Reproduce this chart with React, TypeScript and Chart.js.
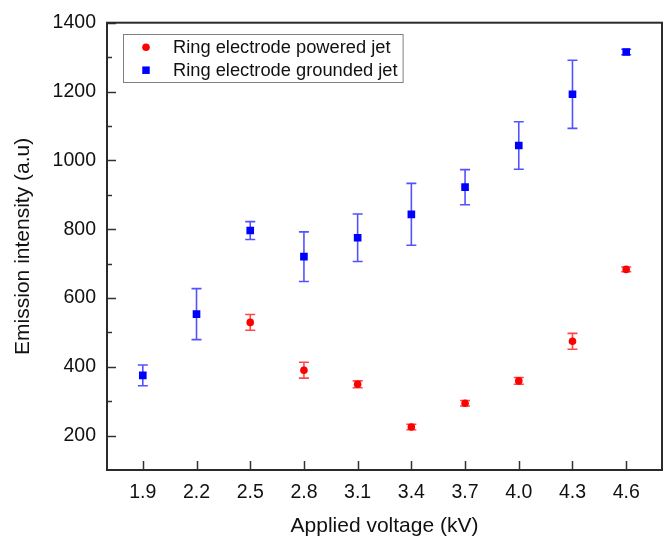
import React, { useEffect, useRef } from "react";
import { Chart, registerables } from "chart.js";

Chart.register(...registerables);

// Applied voltage (kV)
const voltages = [1.9, 2.2, 2.5, 2.8, 3.1, 3.4, 3.7, 4.0, 4.3, 4.6];
// Ring electrode powered jet
const poweredValues: (number | null)[] = [null, null, 529, 390, 349, 225, 294, 359, 474, 683];
const poweredErrors: (number | null)[] = [null, null, 23, 23, 10, 8, 8, 10, 23, 7];
// Ring electrode grounded jet
const groundedValues = [375, 553, 796, 720, 775, 843, 922, 1043, 1192, 1315];
const groundedErrors = [30, 74, 26, 72, 69, 90, 51, 69, 99, 8];
// Axis ticks
const yMajorTicks = [200, 400, 600, 800, 1000, 1200, 1400];
const yMinorTicks = [300, 500, 700, 900, 1100, 1300];
const xTicks = voltages;

const FONT = "'Liberation Sans', Arial, sans-serif";

export default function App() {
  const ref = useRef<HTMLCanvasElement>(null);

  useEffect(() => {
    document.body.style.margin = "0";
    const canvas = ref.current;
    if (!canvas) return;

    const errorBars = {
      id: "errorBars",
      beforeDatasetsDraw(chart: any) {
        const ctx = chart.ctx;
        const xs = chart.scales.x;
        const ys = chart.scales.y;
        chart.data.datasets.forEach((ds: any) => {
          const errs = ds.errors as (number | null)[];
          ctx.save();
          ctx.strokeStyle = ds.errorColor;
          ctx.lineWidth = 1.6;
          ds.data.forEach((pt: any) => {
            const idx = voltages.indexOf(pt.x);
            const e = errs[idx];
            if (e == null) return;
            const x = xs.getPixelForValue(pt.x);
            const yt = ys.getPixelForValue(pt.y + e);
            const yb = ys.getPixelForValue(pt.y - e);
            ctx.beginPath();
            ctx.moveTo(x, yt);
            ctx.lineTo(x, yb);
            ctx.moveTo(x - 5, yt);
            ctx.lineTo(x + 5, yt);
            ctx.moveTo(x - 5, yb);
            ctx.lineTo(x + 5, yb);
            ctx.stroke();
          });
          ctx.restore();
        });
      },
    };

    const frame = {
      id: "frame",
      afterDraw(chart: any) {
        const ctx = chart.ctx;
        const { left, right, top, bottom } = chart.chartArea;
        const xs = chart.scales.x;
        const ys = chart.scales.y;
        ctx.save();
        ctx.strokeStyle = "#333333";
        ctx.lineWidth = 1.5;
        ctx.beginPath();
        yMajorTicks.forEach((v) => {
          const y = Math.round(ys.getPixelForValue(v)) + 0.5;
          ctx.moveTo(left, y);
          ctx.lineTo(left + 9, y);
        });
        yMinorTicks.forEach((v) => {
          const y = Math.round(ys.getPixelForValue(v)) + 0.5;
          ctx.moveTo(left, y);
          ctx.lineTo(left + 5, y);
        });
        xTicks.forEach((v) => {
          const x = Math.round(xs.getPixelForValue(v)) + 0.5;
          ctx.moveTo(x, bottom);
          ctx.lineTo(x, bottom - 9);
        });
        ctx.stroke();
        ctx.lineWidth = 2;
        ctx.strokeStyle = "#2b2b2b";
        ctx.strokeRect(left, top, right - left, bottom - top);
        ctx.restore();
      },
    };

    const boxLegend = {
      id: "boxLegend",
      afterDraw(chart: any) {
        const ctx = chart.ctx;
        const { left, top } = chart.chartArea;
        const x0 = left + 16;
        const y0 = top + 11.5;
        ctx.save();
        ctx.font = `18.3px ${FONT}`;
        const dsList = chart.data.datasets;
        let maxW = 0;
        dsList.forEach((ds: any) => {
          maxW = Math.max(maxW, ctx.measureText(ds.label).width);
        });
        const textX = x0 + 50;
        const w = textX - x0 + maxW + 5;
        const h = 48;
        ctx.fillStyle = "#ffffff";
        ctx.fillRect(x0, y0, w, h);
        ctx.strokeStyle = "#808080";
        ctx.lineWidth = 1;
        ctx.strokeRect(Math.round(x0) + 0.5, Math.round(y0) + 0.5, w, h);
        dsList.forEach((ds: any, i: number) => {
          const cy = y0 + 13 + i * 23;
          ctx.fillStyle = ds.pointBackgroundColor;
          if (ds.pointStyle === "rect") {
            const s = 7.5;
            ctx.fillRect(x0 + 23 - s / 2, cy - s / 2, s, s);
          } else {
            ctx.beginPath();
            ctx.arc(x0 + 23, cy, 3.8, 0, Math.PI * 2);
            ctx.fill();
          }
          ctx.fillStyle = "#111111";
          ctx.textBaseline = "middle";
          ctx.textAlign = "left";
          ctx.fillText(ds.label, textX, cy + 1);
        });
        ctx.restore();
      },
    };

    const poweredData = voltages
      .map((v, i) => ({ x: v, y: poweredValues[i] }))
      .filter((p) => p.y != null);
    const groundedData = voltages.map((v, i) => ({ x: v, y: groundedValues[i] }));

    const chart = new Chart(canvas, {
      type: "scatter",
      data: {
        datasets: [
          {
            label: "Ring electrode powered jet",
            data: poweredData as any,
            pointStyle: "circle",
            pointRadius: 3.8,
            pointBorderWidth: 0,
            pointBackgroundColor: "#ff0000",
            borderColor: "#ff0000",
            errors: poweredErrors,
            errorColor: "rgba(255,0,0,0.72)",
          } as any,
          {
            label: "Ring electrode grounded jet",
            data: groundedData as any,
            pointStyle: "rect",
            pointRadius: 5.4,
            pointBorderWidth: 0,
            pointBackgroundColor: "#0000ff",
            borderColor: "#0000ff",
            errors: groundedErrors,
            errorColor: "rgba(0,0,255,0.68)",
          } as any,
        ],
      },
      options: {
        responsive: false,
        animation: false,
        layout: { padding: { top: 22, right: 6, left: 0, bottom: 0 } },
        plugins: {
          legend: { display: false },
          tooltip: { enabled: false },
        },
        scales: {
          x: {
            type: "linear",
            min: 1.7,
            max: 4.8,
            grid: { display: false, drawTicks: false },
            border: { display: false },
            afterBuildTicks: (scale: any) => {
              scale.ticks = xTicks.map((v) => ({ value: v }));
            },
            afterFit: (scale: any) => {
              scale.height = 67;
            },
            ticks: {
              padding: 11,
              color: "#111111",
              font: { family: FONT, size: 19.5 },
              callback: (v: any) => Number(v).toFixed(1),
            },
            title: {
              display: true,
              text: "Applied voltage (kV)",
              color: "#111111",
              font: { family: FONT, size: 21 },
              padding: { top: 0, bottom: -2 },
            },
          },
          y: {
            type: "linear",
            min: 100,
            max: 1400,
            grid: { display: false, drawTicks: false },
            border: { display: false },
            afterBuildTicks: (scale: any) => {
              scale.ticks = yMajorTicks.map((v) => ({ value: v }));
            },
            afterFit: (scale: any) => {
              scale.width = 107;
            },
            ticks: {
              padding: 11,
              color: "#111111",
              font: { family: FONT, size: 19.5 },
              callback: (v: any) => String(v),
            },
            title: {
              display: true,
              text: "Emission intensity (a.u)",
              color: "#111111",
              font: { family: FONT, size: 21 },
              padding: { top: 11, bottom: 0 },
            },
          },
        },
      },
      plugins: [errorBars, frame, boxLegend],
    });

    return () => chart.destroy();
  }, []);

  return (
    <div style={{ width: 668, height: 537 }}>
      <canvas ref={ref} width={668} height={537} style={{ display: "block" }} />
    </div>
  );
}
